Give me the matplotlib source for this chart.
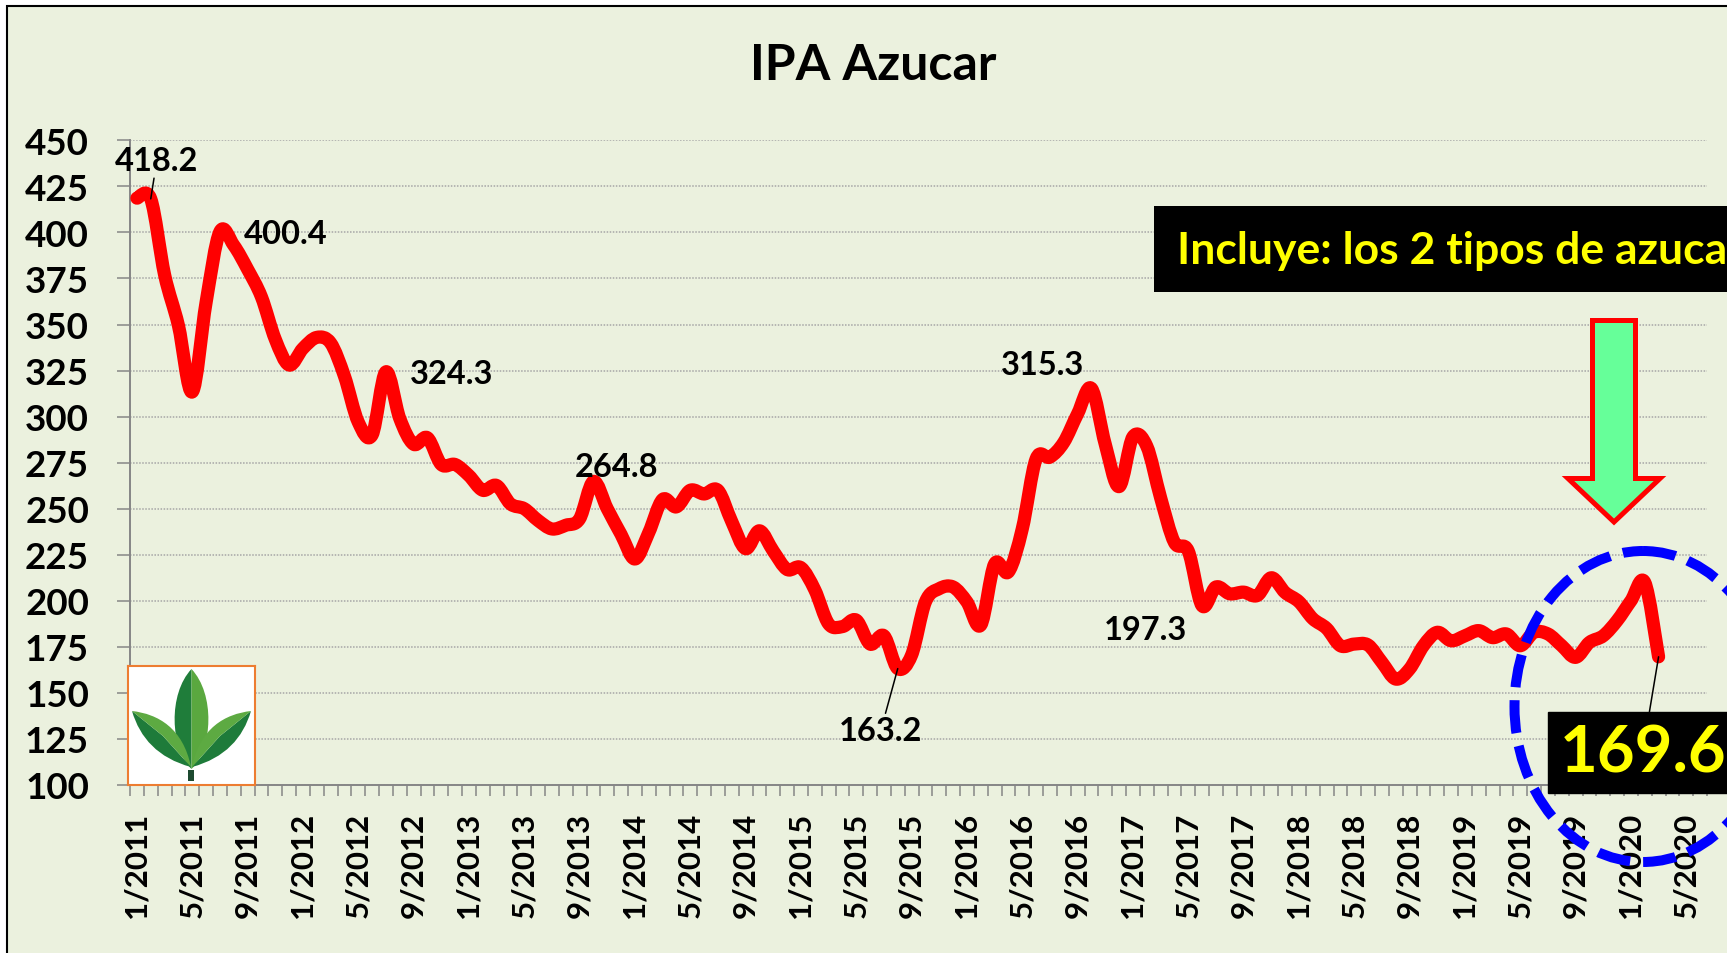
import numpy as np
import pandas as pd
import matplotlib
matplotlib.use("Agg")
import matplotlib.pyplot as plt
from matplotlib.path import Path
from matplotlib.patches import PathPatch, Rectangle, Polygon, Ellipse

W, H = 1727, 954

# monthly index, 1/2011 .. 3/2020
ipa = [418.6, 418.2, 377, 349.5, 313.4, 362, 400.4, 393, 380, 365, 342, 328,
       337, 343, 340, 322, 297, 290, 324.3, 299, 285, 288.5, 274, 274,
       268, 260, 262.6, 252.6, 250, 243.6, 239, 241, 244.5, 264.8, 250, 236,
       222.7, 237, 255, 251, 260, 258, 260, 243, 228.3, 238, 227, 217,
       218, 206, 187.5, 186, 189.5, 176.5, 181, 163.2, 170.5, 199.4, 206.6, 207.5,
       199.4, 186.8, 220, 215.7, 239, 277, 278, 286, 301.5, 315.3, 285, 262,
       289, 284, 256, 231.7, 227, 197.3, 207.5, 203.8, 204.7, 202.9, 212.5, 204.5,
       199.5, 190.3, 185, 175.6, 176.5, 176, 166.6, 157.5, 163, 175.6, 182.9, 178.3,
       181, 183.8, 180, 182, 175.6, 182.9, 182, 175.6, 169.3, 177.4, 181, 189.2,
       200, 210, 169.6]
n_cats = 114  # axis runs to 6/2020
months = pd.period_range("2011-01", periods=n_cats, freq="M")
tick_pos = list(range(0, n_cats, 4))
tick_labels = [f"{months[p].month}/{months[p].year}" for p in tick_pos]
yticks = list(range(100, 451, 25))

# labelled points: index -> (offset px x, offset px y, leader line)
labelled = {1: (6, 38, True), 6: (66, -2, False), 18: (66, -2, False),
            33: (23, 15, False), 55: (-17, -62, True), 69: (-49, 24, False),
            77: (-57, -24, False)}

BOLD = "bold"
plt.rcParams["font.family"] = ["Lato", "DejaVu Sans"]
plt.rcParams["font.weight"] = "bold"

fig = plt.figure(figsize=(W / 100, H / 100), dpi=100)

# chart area background + border
bg = fig.add_axes([0, 0, 1, 1], zorder=-10)
bg.set_xlim(0, W); bg.set_ylim(H, 0); bg.axis("off")
bg.add_patch(Rectangle((7, 7), W + 20, H + 20, fc="#EBF1DE", ec="black", lw=1.5))

ax = fig.add_axes([130 / W, 1 - 786 / H, 1577 / W, (786 - 141.3) / H])
ax.set_facecolor("none")
ax.set_xlim(-0.5, n_cats - 0.5)
ax.set_ylim(100, 450)


def smooth(xs, ys):
    pts = np.column_stack([xs, ys]).astype(float)
    verts = [pts[0]]
    codes = [Path.MOVETO]
    n = len(pts)
    for k in range(n - 1):
        p0 = pts[max(k - 1, 0)]
        p1, p2 = pts[k], pts[k + 1]
        p3 = pts[min(k + 2, n - 1)]
        verts += [p1 + (p2 - p0) / 6, p2 - (p3 - p1) / 6, p2]
        codes += [Path.CURVE4] * 3
    return Path(verts, codes)


x = np.arange(len(ipa))
ax.add_patch(PathPatch(smooth(x, ipa), fill=False, ec="#FF0000", lw=9.5,
                       capstyle="round", joinstyle="round", zorder=3))

ax.set_yticks(yticks)
ax.set_yticklabels([str(v) for v in yticks], fontsize=26.5, fontweight=BOLD)
ax.grid(axis="y", color="#A6A6A6", lw=1.1, linestyle=(0, (1, 1)))
ax.set_axisbelow(True)
ax.set_xticks(tick_pos)
ax.set_xticklabels(tick_labels, rotation=90, fontsize=22.5, fontweight=BOLD)
ax.set_xticks(np.arange(-0.5, n_cats, 1), minor=True)
ax.tick_params(axis="x", which="major", length=0, pad=19)
ax.tick_params(axis="x", which="minor", length=8, width=1.1, color="#868686")
ax.tick_params(axis="y", length=9.5, width=1.1, color="#868686", pad=20)
for s in ["top", "right"]:
    ax.spines[s].set_visible(False)
for s in ["left", "bottom"]:
    ax.spines[s].set_color("#868686")
    ax.spines[s].set_linewidth(1.4)

for i, (dx, dy, leader) in labelled.items():
    ap = dict(arrowstyle="-", color="black", lw=1.1, shrinkA=0, shrinkB=0) if leader else None
    ax.annotate(f"{ipa[i]:.1f}", xy=(i, ipa[i]), xytext=(dx, dy), textcoords="offset pixels",
                ha="center", va="center", fontsize=23.5, fontweight=BOLD,
                arrowprops=ap, zorder=5)

last = len(ipa) - 1
ax.annotate(f"{ipa[last]:.1f}", xy=(last, ipa[last]), xytext=(-16, -96), textcoords="offset pixels",
            ha="center", va="center", fontsize=47, fontweight=BOLD, color="#FFFF00",
            bbox=dict(boxstyle="square,pad=0.17", fc="black", ec="black"),
            arrowprops=dict(arrowstyle="-", color="black", lw=1.1, shrinkA=0, shrinkB=0),
            annotation_clip=False, zorder=6)

fig.text(873 / W, 1 - 66 / H, "IPA Azucar", ha="center", va="center",
         fontsize=36, fontweight=BOLD)

# overlay in pixel coordinates for the call-outs
ov = fig.add_axes([0, 0, 1, 1], zorder=20)
ov.set_xlim(0, W); ov.set_ylim(H, 0); ov.axis("off")
ov.patch.set_alpha(0)

# the call-out runs past the right edge of the picture, as in the original
ov.add_patch(Rectangle((1154, 207), 700, 86, fc="black", ec="none"))
ov.text(1177, 251, "Incluye: los 2 tipos de azucar", ha="left", va="center",
        fontsize=32, fontweight=BOLD, color="#FFFF00")

ov.add_patch(Polygon([(1592.5, 321.5), (1635.5, 321.5), (1635.5, 479.5), (1660, 479.5),
                      (1614, 523), (1568, 479.5), (1592.5, 479.5)], closed=True,
                     fc="#66FF99", ec="#FF0000", lw=3.6, joinstyle="miter"))

ov.add_patch(Ellipse((1643, 707.5), 257, 311, fill=False, ec="#0000FF", lw=7.2,
                     linestyle=(0, (3.3, 1.3))))

# logo
lg = fig.add_axes([128 / W, 1 - 786 / H, 127 / W, 119 / H], zorder=15)
lg.set_xlim(0, 127); lg.set_ylim(119, 0)
lg.set_xticks([]); lg.set_yticks([])
lg.set_facecolor("white")
for s in lg.spines.values():
    s.set_color("#ED7D31"); s.set_linewidth(1.5)

C4, L2 = Path.CURVE4, Path.LINETO


def leaf_side(sign):
    # sign=-1 left leaf, +1 right leaf
    def mx(v):
        return 63.5 + sign * (63.5 - v)
    outer = [(mx(63), 101), (mx(30), 92), (mx(12), 72), (mx(4), 45)]
    upper = [(mx(4), 45), (mx(30), 48), (mx(55), 62), (mx(63), 101)]
    dark = Path([outer[0], outer[1], outer[2], outer[3], (mx(35), 70), outer[0]],
                [Path.MOVETO, C4, C4, C4, L2, L2])
    light = Path([upper[0], upper[1], upper[2], upper[3], (mx(35), 70), upper[0]],
                 [Path.MOVETO, C4, C4, C4, L2, L2])
    lg.add_patch(PathPatch(dark, fc="#1E7B3A", ec="none"))
    lg.add_patch(PathPatch(light, fc="#5DAA42", ec="none"))


lg.add_patch(PathPatch(Path([(63.5, 103), (42, 82), (40, 28), (63.5, 3), (63.5, 103)],
                            [Path.MOVETO, C4, C4, C4, L2]), fc="#1F7D3A", ec="none"))
lg.add_patch(PathPatch(Path([(63.5, 103), (85, 82), (87, 28), (63.5, 3), (63.5, 103)],
                            [Path.MOVETO, C4, C4, C4, L2]), fc="#5AA83F", ec="none"))
leaf_side(1)
leaf_side(-1)
lg.add_patch(Rectangle((60.5, 104), 6, 11, fc="#1D4A30", ec="none"))

fig.savefig("out.png", dpi=100)
